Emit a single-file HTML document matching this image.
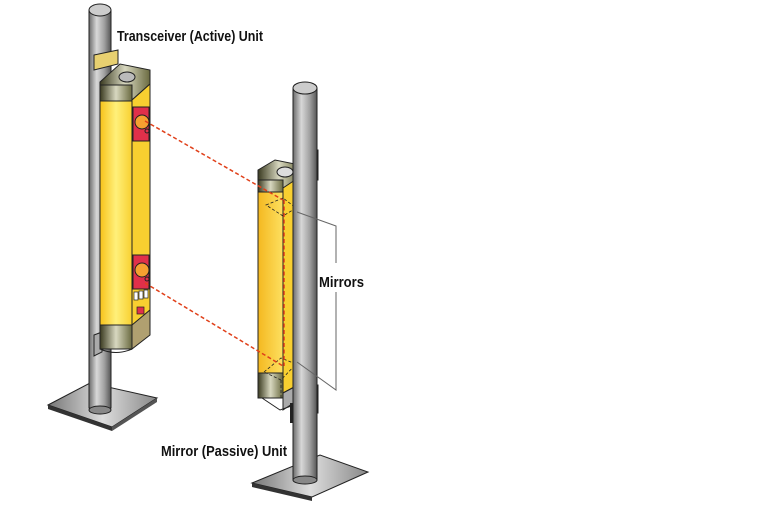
<!DOCTYPE html>
<html><head><meta charset="utf-8"><style>
html,body{margin:0;padding:0;background:#fff;}
svg{display:block}
text{font-family:"Liberation Sans",sans-serif;font-weight:bold;font-size:15px;fill:#111}
</style></head><body>
<svg width="767" height="513" viewBox="0 0 767 513" xmlns="http://www.w3.org/2000/svg">
<defs>
<linearGradient id="pole" x1="0" x2="1"><stop offset="0" stop-color="#6b6b6b"/><stop offset="0.35" stop-color="#d8d8d8"/><stop offset="0.7" stop-color="#a0a0a0"/><stop offset="1" stop-color="#555"/></linearGradient>
<linearGradient id="yel" x1="0" x2="1"><stop offset="0" stop-color="#f6c21a"/><stop offset="0.5" stop-color="#fff07a"/><stop offset="1" stop-color="#f8d030"/></linearGradient>
<linearGradient id="yel2" x1="0" x2="1"><stop offset="0" stop-color="#f4b820"/><stop offset="1" stop-color="#fde060"/></linearGradient>
<linearGradient id="cap" x1="0" x2="1"><stop offset="0" stop-color="#3a3a20"/><stop offset="0.5" stop-color="#d8d8c0"/><stop offset="1" stop-color="#6a6a40"/></linearGradient>
<linearGradient id="plate" x1="0" x2="1"><stop offset="0" stop-color="#777"/><stop offset="0.5" stop-color="#ddd"/><stop offset="1" stop-color="#888"/></linearGradient>
</defs>

<!-- LEFT UNIT -->
<polygon points="48,405 90,383 157,398 112,427" fill="url(#plate)" stroke="#222"/>
<polygon points="48,405 112,427 112,431 48,409" fill="#333"/>
<polygon points="112,427 157,398 157,402 112,431" fill="#555"/>
<rect x="89" y="10" width="22" height="398" fill="url(#pole)" stroke="#222"/>
<ellipse cx="100" cy="410" rx="11" ry="4" fill="#888" stroke="#222"/>
<ellipse cx="100" cy="10" rx="11" ry="6" fill="#ccc" stroke="#222"/>
<polygon points="94,55 118,50 118,64 94,70" fill="#e8d070" stroke="#222"/>
<polygon points="94,335 102,332 102,352 94,356" fill="#aaa" stroke="#222"/>
<polygon points="100,82 120,64 150,70 150,84 132,100 100,92" fill="url(#cap)" stroke="#222"/>
<ellipse cx="127" cy="77" rx="8" ry="5" fill="#bbb" stroke="#222"/>
<rect x="100" y="85" width="32" height="262" fill="url(#yel)" stroke="#222"/>
<polygon points="132,100 150,84 150,330 132,347" fill="#f8cf30" stroke="#222"/>
<rect x="100" y="85" width="32" height="16" fill="url(#cap)" stroke="#222"/>
<rect x="100" y="325" width="32" height="24" fill="url(#cap)" stroke="#222"/>
<polygon points="132,325 150,310 150,335 132,349" fill="#b0a070" stroke="#222"/>
<path d="M100,349 Q116,356 132,349" fill="none" stroke="#222"/>
<rect x="133" y="107" width="16" height="34" fill="#e0304a" stroke="#222"/>
<circle cx="142" cy="122" r="7" fill="#f6a030" stroke="#222"/>
<circle cx="147" cy="131" r="2" fill="none" stroke="#222"/>
<rect x="133" y="255" width="16" height="34" fill="#e0304a" stroke="#222"/>
<circle cx="142" cy="270" r="7" fill="#f6a030" stroke="#222"/>
<circle cx="147" cy="279" r="2" fill="none" stroke="#222"/>
<rect x="134" y="292" width="4" height="8" fill="#fff" stroke="#222" stroke-width=".7"/>
<rect x="139" y="291" width="4" height="8" fill="#fff" stroke="#222" stroke-width=".7"/>
<rect x="144" y="290" width="4" height="8" fill="#fff" stroke="#222" stroke-width=".7"/>
<rect x="137" y="307" width="7" height="7" fill="#e0304a" stroke="#222" stroke-width=".7"/>

<!-- RIGHT UNIT -->
<polygon points="252,483 320,455 368,472 312,497" fill="url(#plate)" stroke="#222"/>
<polygon points="252,483 312,497 312,501 252,487" fill="#333"/>
<rect x="310" y="385" width="8" height="28" fill="#e8d070" stroke="#222"/>
<rect x="310" y="150" width="8" height="30" fill="#e8d070" stroke="#222"/>
<polygon points="258,170 275,160 300,165 300,178 283,188 258,180" fill="url(#cap)" stroke="#222"/>
<ellipse cx="285" cy="172" rx="8" ry="5" fill="#ddd" stroke="#222"/>
<rect x="258" y="180" width="25" height="213" fill="url(#yel2)" stroke="#222"/>
<polygon points="283,188 298,178 298,385 283,393" fill="#f8cf30" stroke="#222"/>
<rect x="258" y="180" width="25" height="12" fill="url(#cap)" stroke="#222"/>
<rect x="258" y="373" width="25" height="25" fill="url(#cap)" stroke="#222"/>
<polygon points="283,393 298,385 298,400 283,410" fill="#aaa" stroke="#222"/>
<path d="M262,398 L280,410 L300,403" fill="none" stroke="#222"/>
<rect x="290" y="403" width="6" height="20" fill="#222"/>
<g stroke="#222" stroke-dasharray="3,2" fill="none" stroke-width=".8">
<polygon points="266,205 283,198 296,208 283,216"/>
<line x1="283" y1="216" x2="283" y2="240"/>
<polygon points="264,372 281,358 296,364 281,380"/>
<line x1="281" y1="380" x2="281" y2="398"/>
</g>
<rect x="293" y="88" width="24" height="392" fill="url(#pole)" stroke="#222"/>
<ellipse cx="305" cy="480" rx="12" ry="4" fill="#888" stroke="#222"/>
<ellipse cx="305" cy="88" rx="12" ry="6" fill="#ccc" stroke="#222"/>

<g stroke="#e0401a" stroke-width="1.5" stroke-dasharray="4,2.5" fill="none">
<line x1="145" y1="121" x2="283" y2="200"/>
<line x1="145" y1="283" x2="283" y2="366"/>
<line x1="284" y1="200" x2="284" y2="366"/>
</g>

<g stroke="#666" fill="none" stroke-width="1">
<polyline points="297,212 336,226 336,263"/>
<polyline points="336,292 336,390 297,362"/>
</g>
<text x="319" y="287" textLength="45" lengthAdjust="spacingAndGlyphs">Mirrors</text>
<text x="117" y="41" textLength="146" lengthAdjust="spacingAndGlyphs">Transceiver (Active) Unit</text>
<text x="161" y="456" textLength="126" lengthAdjust="spacingAndGlyphs">Mirror (Passive) Unit</text>
</svg>
</body></html>
